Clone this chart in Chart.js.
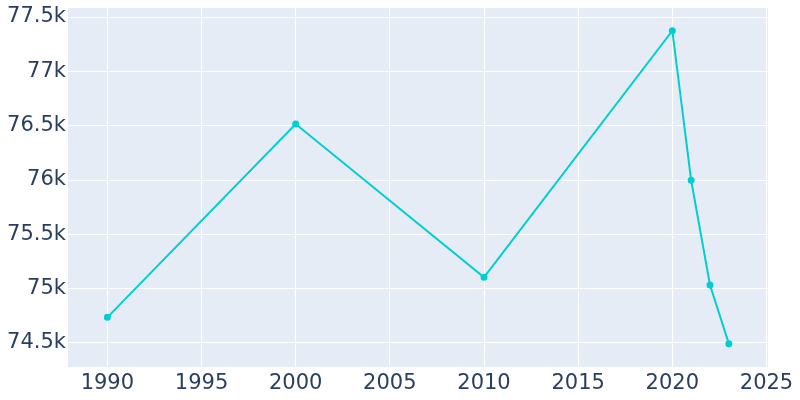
<!DOCTYPE html>
<html>
<head>
<meta charset="utf-8">
<script src="https://cdn.jsdelivr.net/npm/chart.js@4"></script>
<style>
  html, body { margin: 0; padding: 0; background: #fff; }
  #wrap { width: 800px; height: 400px; }
</style>
</head>
<body>
<div id="wrap"><canvas id="chart"></canvas></div>
<script>
// population by year
const years = [1990, 2000, 2010, 2020, 2021, 2022, 2023];
const population = [74736, 76515, 75105, 77374, 75997, 75034, 74494];
const xTicks = [1990, 1995, 2000, 2005, 2010, 2015, 2020, 2025];
const yTicks = [74500, 75000, 75500, 76000, 76500, 77000, 77500];

const plotBg = {
    id: 'plotBg',
    beforeDraw(chart) {
        const { ctx, chartArea: a } = chart;
        ctx.save();
        ctx.fillStyle = '#E5ECF6';
        ctx.fillRect(a.left, a.top, a.right - a.left, a.bottom - a.top);
        ctx.restore();
    }
};

const tickFont = { family: 'DejaVu Sans', size: 21 };

new Chart(document.getElementById('chart').getContext('2d'), {
    type: 'line',
    data: {
        datasets: [{
            data: years.map((y, i) => ({ x: y, y: population[i] })),
            borderColor: '#00CED1',
            backgroundColor: '#00CED1',
            borderWidth: 2,
            pointRadius: 2.5,
            pointHoverRadius: 4,
            tension: 0
        }]
    },
    options: {
        responsive: true,
        maintainAspectRatio: false,
        animation: false,
        layout: { padding: { left: 0, right: 32, top: 8, bottom: 0 } },
        plugins: { legend: { display: false }, tooltip: { enabled: false } },
        scales: {
            x: {
                type: 'linear',
                min: 1987.91,
                max: 2025.08,
                afterBuildTicks: (s) => { s.ticks = xTicks.map(v => ({ value: v })); },
                afterFit: (s) => { s.height = 33; s.paddingLeft = 0; s.paddingRight = 0; },
                grid: { color: '#ffffff', lineWidth: 1, drawTicks: false },
                border: { display: false },
                ticks: {
                    font: tickFont,
                    color: '#2a3f5f',
                    padding: 4,
                    maxRotation: 0,
                    callback: (v) => String(v)
                }
            },
            y: {
                min: 74279,
                max: 77583,
                afterBuildTicks: (s) => { s.ticks = yTicks.map(v => ({ value: v })); },
                afterFit: (s) => { s.width = 68; s.paddingTop = 0; s.paddingBottom = 0; },
                grid: { color: '#ffffff', lineWidth: 1, drawTicks: false },
                border: { display: false },
                ticks: {
                    font: tickFont,
                    color: '#2a3f5f',
                    padding: 2,
                    callback: (v) => (v / 1000) + 'k'
                }
            }
        }
    },
    plugins: [plotBg]
});
</script>
</body>
</html>
